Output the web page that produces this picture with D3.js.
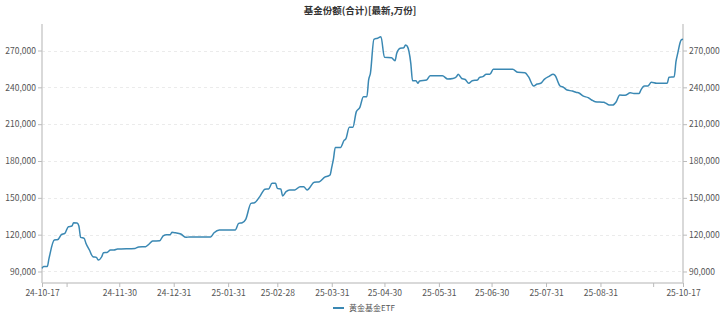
<!DOCTYPE html>
<html>
<head>
<meta charset="utf-8">
<script src="https://cdn.jsdelivr.net/npm/d3@7"></script>
<style>
  html, body { margin: 0; padding: 0; background: #fff; }
  svg { display: block; font-family: "Noto Sans CJK SC", "Noto Sans", sans-serif; }
</style>
</head>
<body>
<svg id="chart" width="720" height="316"></svg>
<script>
const title = "基金份额(合计)[最新,万份]";
const seriesName = "黄金基金ETF";

const dates = [
  "2024-10-17","2024-10-18","2024-10-20","2024-10-21","2024-10-24","2024-10-26","2024-10-28","2024-10-30",
  "2024-11-01","2024-11-03","2024-11-04","2024-11-06","2024-11-07","2024-11-08","2024-11-10","2024-11-11",
  "2024-11-13","2024-11-15","2024-11-17","2024-11-18","2024-11-20","2024-11-21","2024-11-23","2024-11-25",
  "2024-11-27","2024-11-29","2024-12-09","2024-12-11","2024-12-15","2024-12-17","2024-12-19","2024-12-23",
  "2024-12-25","2024-12-27","2024-12-29","2024-12-30","2025-01-01","2025-01-04","2025-01-07","2025-01-09",
  "2025-01-21","2025-01-23","2025-01-26","2025-02-04","2025-02-06","2025-02-08","2025-02-10","2025-02-13",
  "2025-02-15","2025-02-18","2025-02-21","2025-02-23","2025-02-25","2025-02-27","2025-02-28","2025-03-02",
  "2025-03-03","2025-03-05","2025-03-07","2025-03-10","2025-03-13","2025-03-15","2025-03-17","2025-03-18",
  "2025-03-21","2025-03-24","2025-03-27","2025-03-29","2025-03-30","2025-03-31","2025-04-01","2025-04-02",
  "2025-04-05","2025-04-07","2025-04-08","2025-04-10","2025-04-12","2025-04-14","2025-04-16","2025-04-18",
  "2025-04-20","2025-04-21","2025-04-22","2025-04-24","2025-04-26","2025-04-28","2025-04-30","2025-05-04",
  "2025-05-06","2025-05-07","2025-05-09","2025-05-11","2025-05-12","2025-05-13","2025-05-15","2025-05-16",
  "2025-05-18","2025-05-19","2025-05-20","2025-05-24","2025-05-26","2025-06-02","2025-06-05","2025-06-08",
  "2025-06-10","2025-06-11","2025-06-13","2025-06-15","2025-06-17","2025-06-19","2025-06-22","2025-06-23",
  "2025-06-25","2025-06-27","2025-06-29","2025-07-01","2025-07-12","2025-07-15","2025-07-19","2025-07-21",
  "2025-07-24","2025-07-26","2025-07-28","2025-07-30","2025-08-02","2025-08-04","2025-08-05","2025-08-08",
  "2025-08-10","2025-08-12","2025-08-15","2025-08-17","2025-08-19","2025-08-21","2025-08-24","2025-08-26",
  "2025-08-28","2025-09-02","2025-09-03","2025-09-05","2025-09-07","2025-09-09","2025-09-11","2025-09-14",
  "2025-09-17","2025-09-19","2025-09-22","2025-09-23","2025-09-25","2025-09-27","2025-09-29","2025-10-02",
  "2025-10-08","2025-10-09","2025-10-12","2025-10-13","2025-10-14","2025-10-16","2025-10-17"
];

const values = [
  92600,94000,94000,100700,115600,116000,120000,121000,
  126500,127000,129700,129500,127000,117800,117000,113000,
  107500,102000,101500,99300,102000,105300,105500,107500,
  107500,108300,108800,110000,110200,112400,114800,115000,
  119100,120000,120000,121900,121500,120500,117800,118200,
  118200,121600,123800,123800,129200,129700,132500,145500,
  146000,151000,157000,157200,161800,161800,157700,157200,
  151500,155000,156300,156400,159100,159100,156400,157500,
  162700,163100,166800,167800,168600,175000,182000,191100,
  191100,196800,198000,207400,207400,220200,223700,232400,
  232400,246000,251400,279100,280000,281200,264500,264200,
  261700,267700,271800,272200,274500,273500,259600,245400,
  245400,243300,245200,246000,249500,249500,246800,247200,
  248700,250600,247200,246400,243300,245400,246000,247900,
  248700,250600,250600,254700,254700,252200,251900,248700,
  241100,242700,243300,246500,249200,250600,250000,241100,
  240000,237800,237000,236000,235200,233000,231600,229700,
  228300,227800,227100,225600,225600,228300,233800,233500,
  235600,235000,234900,237800,241100,241100,244100,243300,
  243300,248200,248700,260900,267700,278600,279100
];

const yTicks = [90000,120000,150000,180000,210000,240000,270000];
const xTickDates = ["2024-10-17","2024-10-31","2024-11-30","2024-12-31","2025-01-31","2025-02-28",
  "2025-03-31","2025-04-30","2025-05-31","2025-06-30","2025-07-31","2025-08-31","2025-09-30","2025-10-17"];
const xTickLabels = ["24-10-17","","24-11-30","24-12-31","25-01-31","25-02-28",
  "25-03-31","25-04-30","25-05-31","25-06-30","25-07-31","25-08-31","","25-10-17"];

const parse = d3.timeParse("%Y-%m-%d");
const data = dates.map((d, i) => ({ date: parse(d), value: values[i] }));
const tickDates = xTickDates.map(parse);

const mL = 42, mR = 683, mT = 24, mB = 283;
const svg = d3.select("#chart");

const x = d3.scaleTime().domain([parse("2024-10-17"), parse("2025-10-17")]).range([mL, mR]);
const y = d3.scaleLinear().domain([80630, 291600]).range([mB, mT]);

const fmt = d3.format(",");
const axisColor = "#cccccc";
const textColor = "#555";

svg.append("g").selectAll("line").data(yTicks).join("line")
  .attr("x1", mL).attr("x2", mR)
  .attr("y1", d => Math.round(y(d)) + 0.5).attr("y2", d => Math.round(y(d)) + 0.5)
  .attr("stroke", "#ebebeb").attr("stroke-width", 1).attr("stroke-dasharray", "3,3");

const gL = svg.append("g").attr("transform", `translate(${mL},0)`)
  .call(d3.axisLeft(y).tickValues(yTicks).tickFormat(fmt).tickSize(4).tickPadding(2));
const gR = svg.append("g").attr("transform", `translate(${mR},0)`)
  .call(d3.axisRight(y).tickValues(yTicks).tickFormat(fmt).tickSize(4).tickPadding(2));
const gB = svg.append("g").attr("transform", `translate(0,${mB})`)
  .call(d3.axisBottom(x).tickValues(tickDates).tickFormat((d, i) => xTickLabels[i]).tickSize(4).tickPadding(3));

[gL, gR, gB].forEach(g => {
  g.select(".domain").attr("stroke", axisColor).attr("stroke-width", 1.5);
  g.selectAll(".tick line").attr("stroke", "#bbb");
  g.selectAll(".tick text").attr("fill", textColor).attr("font-size", 8.5)
    .attr("font-family", "'Noto Sans CJK SC', sans-serif");
});
gL.select(".domain").attr("d", `M0,${mT}V${mB}`);
gR.select(".domain").attr("d", `M0,${mT}V${mB}`);
gB.select(".domain").attr("d", `M${mL},0H${mR}`);

svg.append("path").datum(data)
  .attr("fill", "none").attr("stroke", "#3a88b3").attr("stroke-width", 1.5)
  .attr("stroke-linejoin", "round")
  .attr("d", d3.line().curve(d3.curveMonotoneX).x(d => x(d.date)).y(d => y(d.value)));

svg.append("text").attr("x", 360).attr("y", 14).attr("text-anchor", "middle")
  .attr("font-size", 9.5).attr("font-weight", "bold").attr("fill", "#333").text(title);

const lg = svg.append("g");
lg.append("line").attr("x1", 333).attr("x2", 344).attr("y1", 308).attr("y2", 308)
  .attr("stroke", "#3a88b3").attr("stroke-width", 2);
lg.append("text").attr("x", 349).attr("y", 311).attr("font-size", 8).attr("fill", textColor).text(seriesName);
</script>
</body>
</html>
